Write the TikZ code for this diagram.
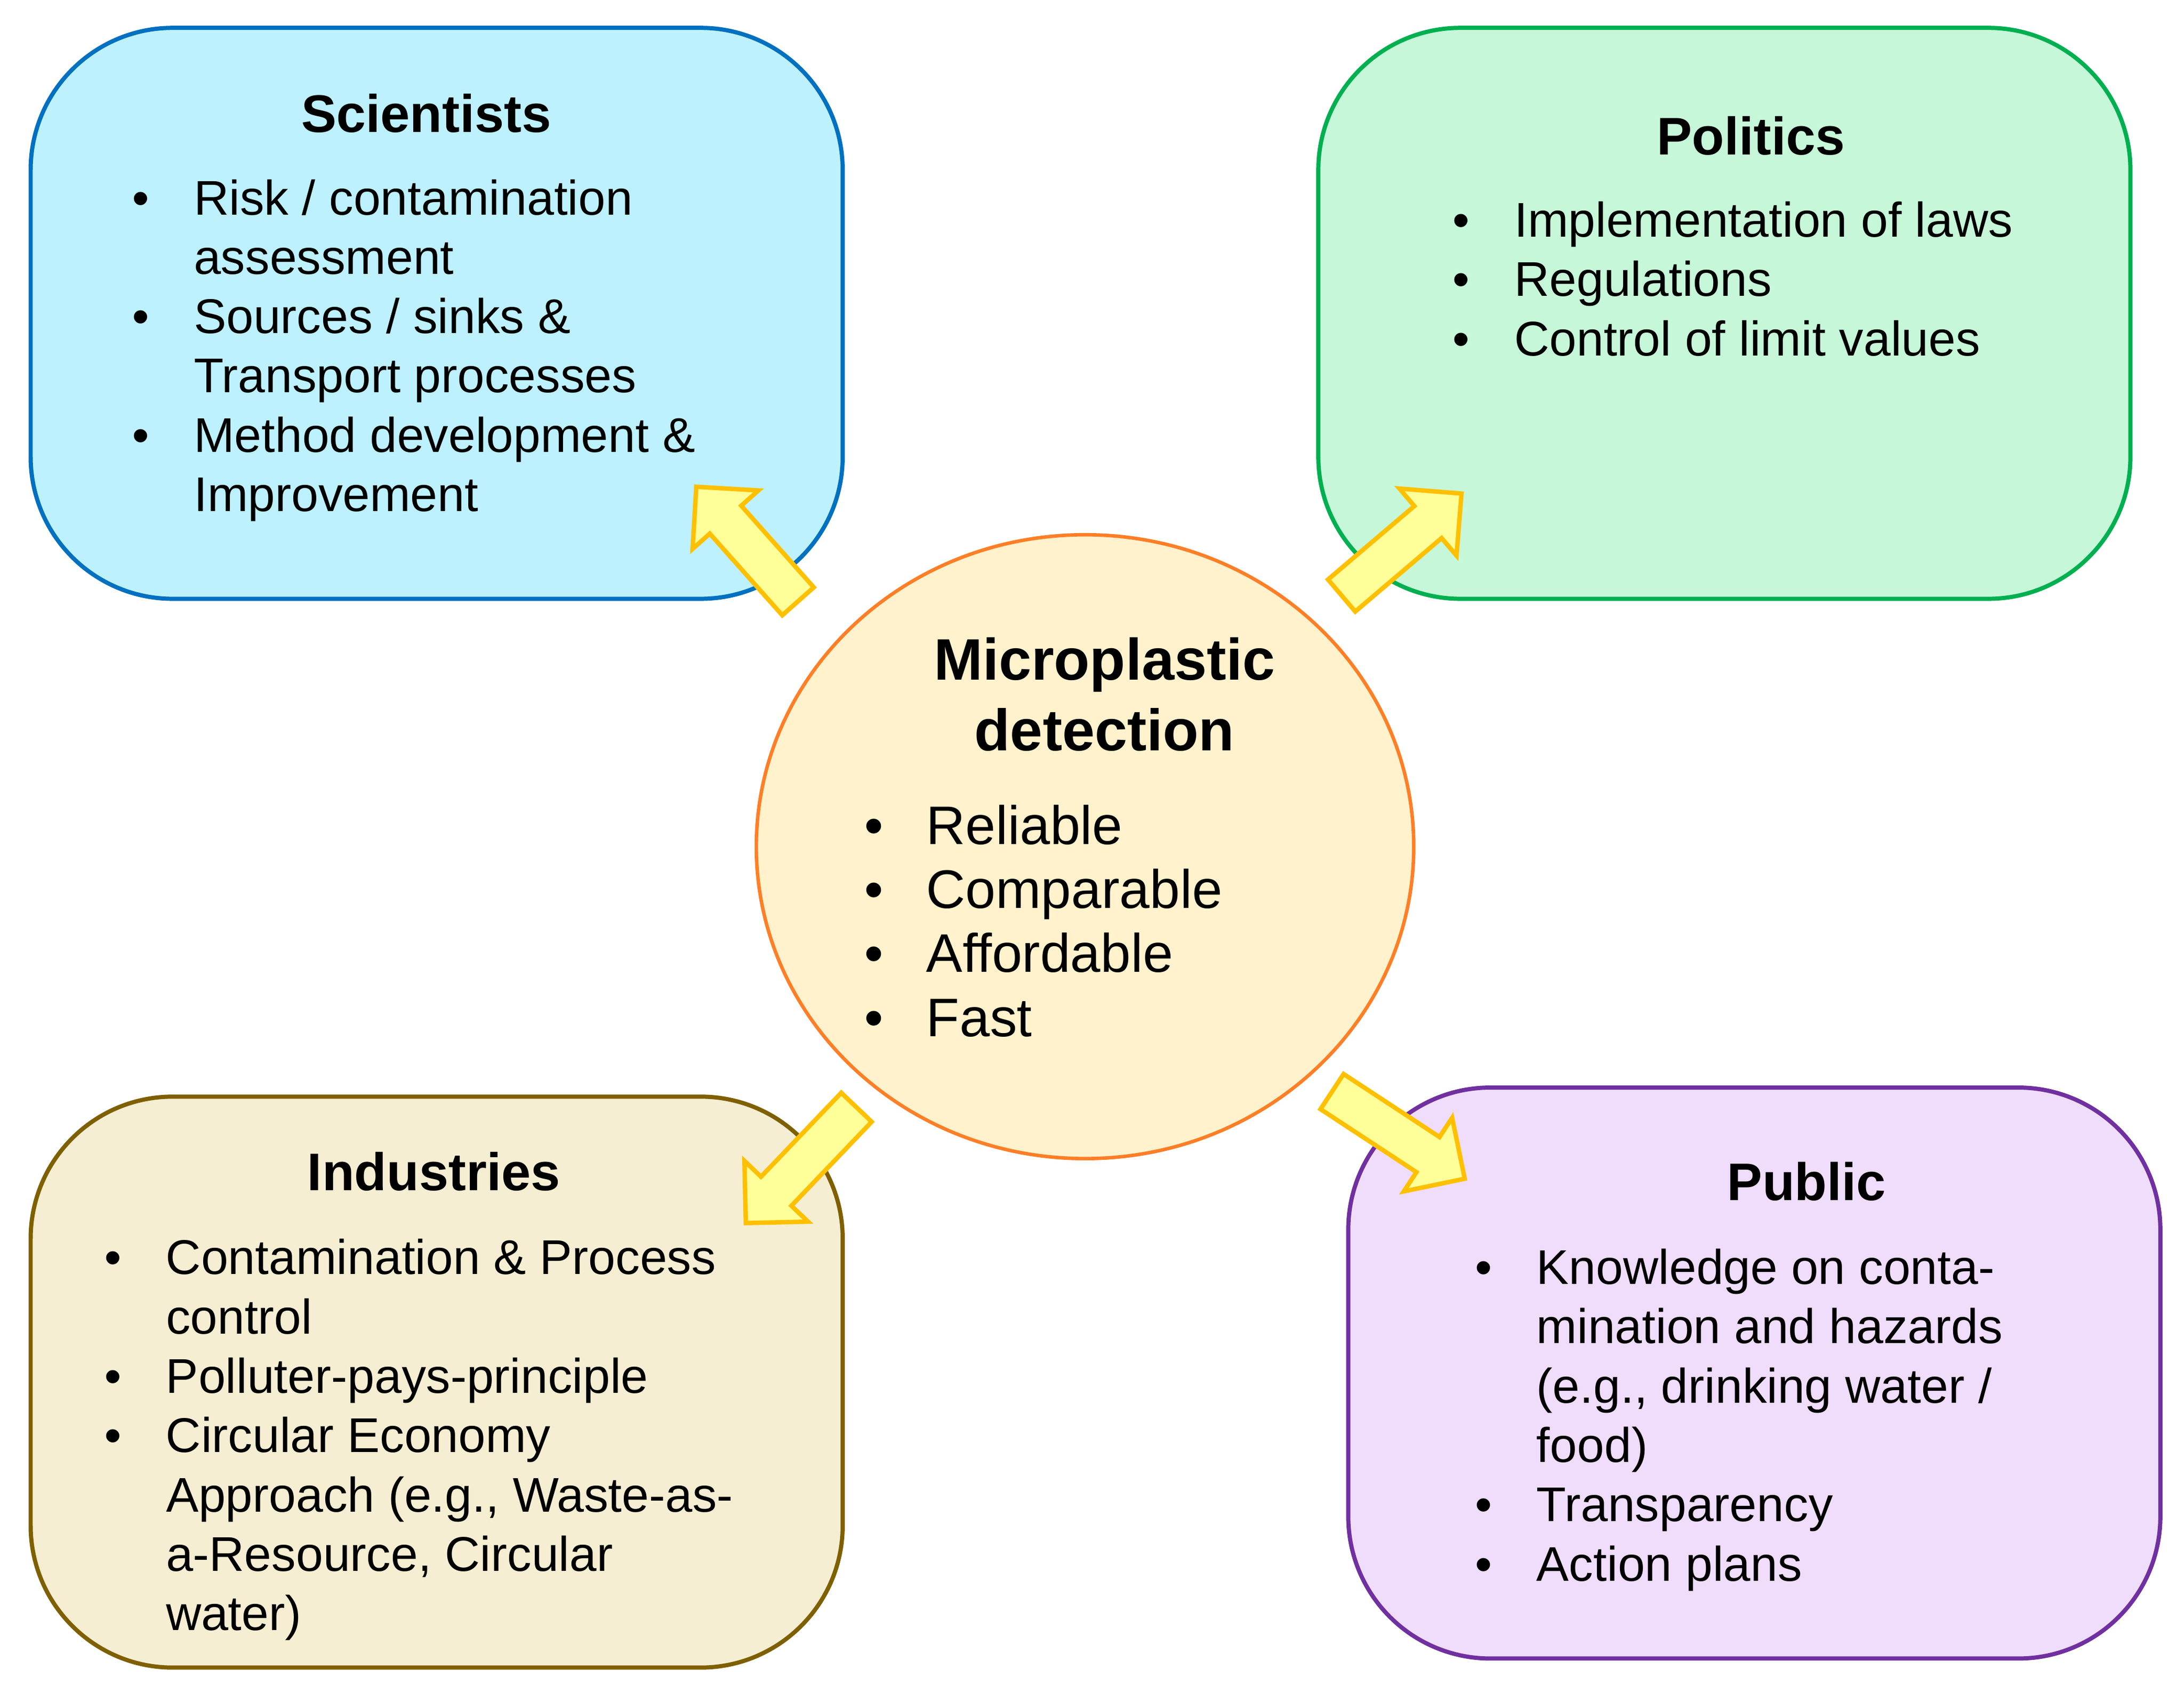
\documentclass[tikz,border=0pt]{standalone}
\usepackage{fontspec}
\setmainfont{Liberation Sans}
\usepackage{tikz}
\usetikzlibrary{shapes.geometric,shapes.arrows}

\definecolor{sciFill}{HTML}{BDF1FD}
\definecolor{sciLine}{HTML}{0070C0}
\definecolor{polFill}{HTML}{C6F7D8}
\definecolor{polLine}{HTML}{00B050}
\definecolor{detFill}{HTML}{FFF2CC}
\definecolor{detLine}{HTML}{FF7F27}
\definecolor{indFill}{HTML}{F5EED2}
\definecolor{indLine}{HTML}{7F6000}
\definecolor{pubFill}{HTML}{EFDDFB}
\definecolor{pubLine}{HTML}{7030A0}
\definecolor{arrFill}{HTML}{FFFF99}
\definecolor{arrLine}{HTML}{FFC000}

\newcommand{\bul}[1][32pt]{\llap{\textbullet\hspace{#1}}}

\begin{document}
\begin{tikzpicture} [
		x=1pt, y=1pt,
		group/.style={draw, rectangle, rounded corners=102pt, line width=3pt, minimum width=583pt, minimum height=410pt, inner sep=0pt},
		headline/.style={anchor=base, inner sep=0pt, font=\bfseries\fontsize{38}{46}\selectfont},
		points/.style={anchor=north west, inner sep=0pt, align=left, font=\fontsize{35}{42.6}\selectfont},
		push/.style={single arrow, draw=arrLine, fill=arrFill, line width=3.2pt, inner xsep=0pt, inner ysep=13.5pt, single arrow head extend=16.5pt, single arrow tip angle=90, anchor=tail}
	]
	\path[use as bounding box, fill=white] (0,0) rectangle (1568,-1210);

	% the four groups
	\node[group, fill=sciFill, draw=sciLine] (sci) at (313.5,-225) {};
	\node[group, fill=polFill, draw=polLine] (pol) at (1238,-225) {};
	\node[group, fill=indFill, draw=indLine] (ind) at (313.5,-992.5) {};
	\node[group, fill=pubFill, draw=pubLine] (pub) at (1259.5,-986) {};
	\node[ellipse, draw=detLine, fill=detFill, line width=2.5pt, minimum width=472pt, minimum height=448pt, inner sep=0pt] (detect) at (779,-608) {};

	\node[headline] (sciTitle) at (306,-95) {Scientists};
	\node[points] (sciList) at (139,-124) {\rule{0pt}{30pt}\bul Risk / contamination\\assessment\\\bul Sources / sinks \&\\Transport processes\\\bul Method development \&\\Improvement};

	\node[headline] (polTitle) at (1257,-111) {Politics};
	\node[points] (polList) at (1087,-140) {\rule{0pt}{30pt}\bul Implementation of laws\\\bul Regulations\\\bul Control of limit values};

	\node[headline] (indTitle) at (311.5,-855) {Industries};
	\node[points] (indList) at (119,-885) {\rule{0pt}{30pt}\bul Contamination \& Process\\control\\\bul Polluter-pays-principle\\\bul Circular Economy\\Approach (e.g., Waste-as-\\a-Resource, Circular\\water)};

	\node[headline] (pubTitle) at (1297,-862) {Public};
	\node[points] (pubList) at (1103,-892) {\rule{0pt}{30pt}\bul Knowledge on conta-\\mination and hazards\\(e.g., drinking water /\\food)\\\bul Transparency\\\bul Action plans};

	% centre
	\node[anchor=north, inner sep=0pt, align=center, font=\bfseries\fontsize{42}{51}\selectfont] (detTitle) at (793,-454) {\rule{0pt}{34pt}Microplastic\\detection};
	\node[points, font=\fontsize{39}{46}\selectfont] (detList) at (665,-573) {\rule{0pt}{33pt}\bul[31pt]Reliable\\\bul[31pt]Comparable\\\bul[31pt]Affordable\\\bul[31pt]Fast};

	% block arrows
	\node[push, rotate=131.6, minimum height=110pt] (toSci) at (574,-433) {};
	\node[push, rotate=40.4, minimum height=113pt] (toPol) at (962,-428.7) {};
	\node[push, rotate=226.3, minimum height=115pt] (toInd) at (616,-794) {};
	\node[push, rotate=-33.3, minimum height=114pt] (toPub) at (955,-783) {};
\end{tikzpicture}
\end{document}
